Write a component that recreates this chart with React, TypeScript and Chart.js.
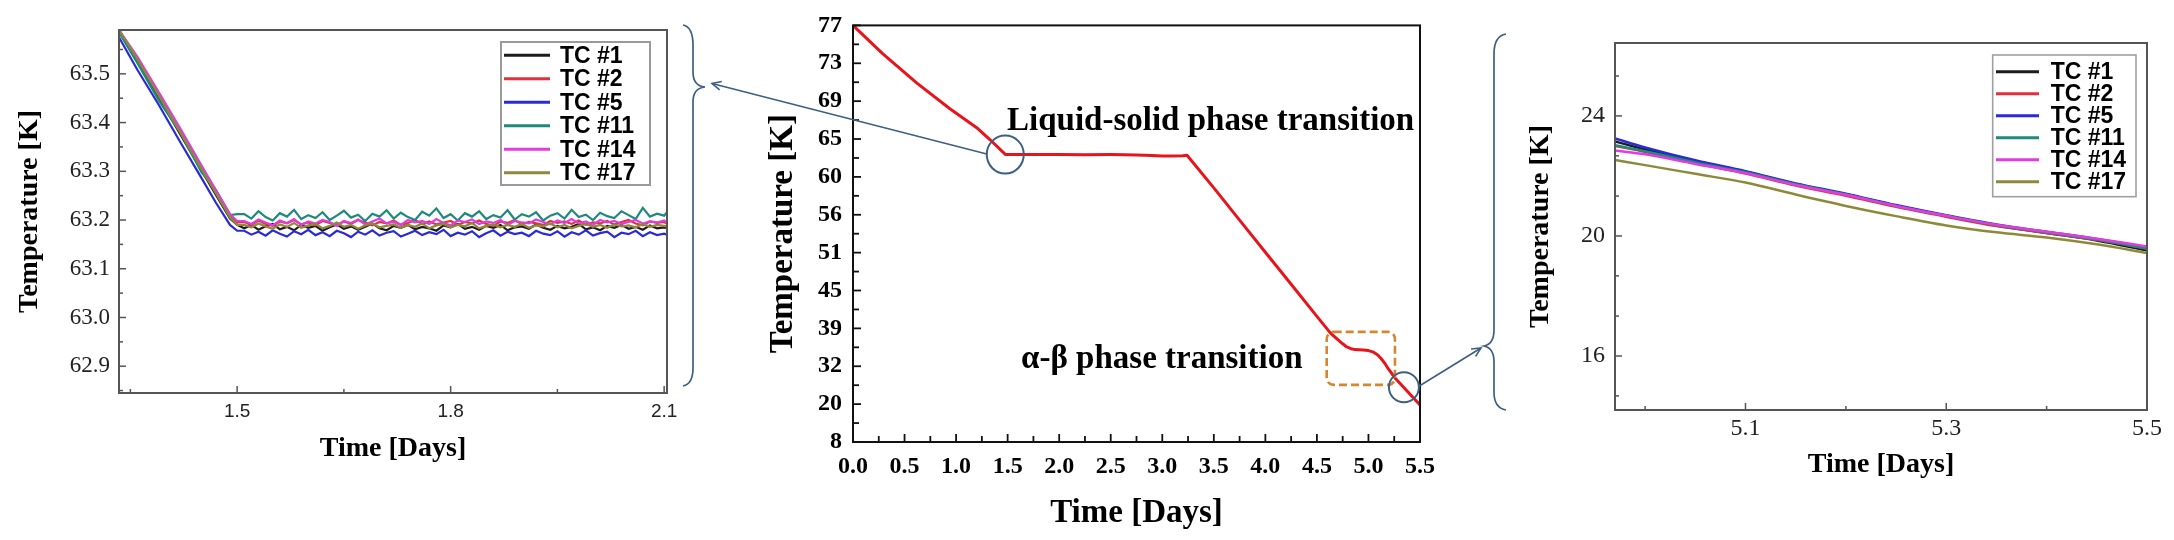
import React, { useEffect, useRef } from 'react';
import { Chart, registerables } from 'chart.js';

Chart.register(...registerables);

const PAGE_W = 2174;
const PAGE_H = 540;

// ---------- shared series meta ----------
const SERIES_LABELS = ['TC #1', 'TC #2', 'TC #5', 'TC #11', 'TC #14', 'TC #17'];
const SERIES_COLORS = ['#1c1c1c', '#e0323c', '#2a2ad8', '#1f8a7c', '#e03ce0', '#8c8a3a'];

// ---------- left panel (zoom on liquid-solid transition) ----------
const LEFT_TIME = [
  1.334, 1.36, 1.39, 1.42, 1.45, 1.47, 1.49, 1.5,
  1.51, 1.52, 1.53, 1.54, 1.55, 1.56, 1.57, 1.58, 1.59, 1.6,
  1.61, 1.62, 1.63, 1.64, 1.65, 1.66, 1.67, 1.68, 1.69, 1.7,
  1.71, 1.72, 1.73, 1.74, 1.75, 1.76, 1.77, 1.78, 1.79, 1.8,
  1.81, 1.82, 1.83, 1.84, 1.85, 1.86, 1.87, 1.88, 1.89, 1.9,
  1.91, 1.92, 1.93, 1.94, 1.95, 1.96, 1.97, 1.98, 1.99, 2.0,
  2.01, 2.02, 2.03, 2.04, 2.05, 2.06, 2.07, 2.08, 2.09, 2.1,
  2.104,
];
const LEFT_TC1 = [
  63.59, 63.525, 63.452, 63.376, 63.302, 63.252, 63.203, 63.19,
  63.183, 63.19, 63.18, 63.187, 63.192, 63.181, 63.186, 63.179, 63.19, 63.184,
  63.188, 63.178, 63.185, 63.191, 63.182, 63.187, 63.18, 63.186, 63.193, 63.183,
  63.179, 63.188, 63.184, 63.19, 63.181, 63.186, 63.183, 63.178, 63.189, 63.185,
  63.192, 63.182, 63.186, 63.18, 63.188, 63.184, 63.19, 63.179, 63.185, 63.187,
  63.182, 63.191, 63.184, 63.18, 63.188, 63.183, 63.186, 63.192, 63.181, 63.185,
  63.179, 63.188, 63.184, 63.19, 63.182, 63.186, 63.18, 63.189, 63.183, 63.185,
  63.184,
];
const LEFT_TC2 = [
  63.59, 63.53, 63.458, 63.382, 63.308, 63.258, 63.208, 63.195,
  63.196, 63.19, 63.199, 63.192, 63.188, 63.197, 63.193, 63.2, 63.191, 63.195,
  63.189, 63.198, 63.194, 63.19, 63.197, 63.192, 63.2, 63.195, 63.189, 63.196,
  63.193, 63.199, 63.19, 63.194, 63.2, 63.192, 63.197, 63.191, 63.195, 63.198,
  63.19, 63.196, 63.193, 63.199, 63.192, 63.188, 63.197, 63.194, 63.2, 63.191,
  63.196, 63.193, 63.19, 63.198, 63.194, 63.197, 63.192, 63.199, 63.19, 63.195,
  63.193, 63.198, 63.191, 63.196, 63.2, 63.193, 63.189, 63.197, 63.194, 63.196,
  63.192,
];
const LEFT_TC5 = [
  63.575, 63.508, 63.436, 63.36, 63.286, 63.236, 63.19, 63.178,
  63.178, 63.17, 63.176, 63.168, 63.179, 63.172, 63.166, 63.177, 63.171, 63.18,
  63.169, 63.175, 63.167, 63.178, 63.173, 63.165, 63.176, 63.17, 63.179, 63.168,
  63.174, 63.177, 63.166, 63.172, 63.178, 63.169, 63.175, 63.171, 63.18, 63.167,
  63.174, 63.17, 63.177, 63.165, 63.173, 63.179, 63.168, 63.176, 63.171, 63.174,
  63.167, 63.178, 63.172, 63.169, 63.177, 63.166, 63.175, 63.17, 63.179, 63.168,
  63.173, 63.176, 63.165, 63.174, 63.171, 63.178, 63.167, 63.175, 63.169, 63.172,
  63.17,
];
const LEFT_TC11 = [
  63.585, 63.522, 63.445, 63.38, 63.298, 63.262, 63.21, 63.212,
  63.212, 63.203, 63.218, 63.206, 63.199, 63.214, 63.207, 63.221, 63.202, 63.21,
  63.204, 63.216, 63.2, 63.209, 63.219, 63.205, 63.211, 63.198, 63.213, 63.207,
  63.22, 63.203, 63.215, 63.206, 63.2, 63.217, 63.209, 63.224, 63.204, 63.212,
  63.199, 63.214, 63.207, 63.218, 63.202, 63.21, 63.205, 63.22, 63.201, 63.212,
  63.207, 63.216, 63.199, 63.209, 63.214, 63.203, 63.221, 63.206, 63.211, 63.2,
  63.215, 63.208, 63.204, 63.218, 63.21, 63.202, 63.225, 63.207, 63.213, 63.209,
  63.216,
];
const LEFT_TC14 = [
  63.59, 63.535, 63.462, 63.388, 63.312, 63.262, 63.212, 63.198,
  63.198, 63.192, 63.201, 63.195, 63.189, 63.199, 63.194, 63.202, 63.19, 63.197,
  63.193, 63.2, 63.196, 63.188, 63.198, 63.194, 63.201, 63.191, 63.197, 63.203,
  63.193, 63.196, 63.19, 63.2, 63.195, 63.198, 63.192, 63.202, 63.194, 63.189,
  63.199, 63.196, 63.201, 63.192, 63.197, 63.194, 63.2, 63.19, 63.198, 63.195,
  63.193, 63.201, 63.196, 63.191, 63.199, 63.194, 63.202, 63.193, 63.197, 63.19,
  63.2, 63.195, 63.198, 63.192, 63.196, 63.2, 63.193, 63.197, 63.195, 63.199,
  63.194,
];
const LEFT_TC17 = [
  63.59, 63.53, 63.455, 63.38, 63.305, 63.255, 63.205, 63.19,
  63.19, 63.185, 63.193, 63.187, 63.182, 63.191, 63.186, 63.194, 63.184, 63.189,
  63.192, 63.183, 63.188, 63.195, 63.186, 63.19, 63.182, 63.189, 63.193, 63.185,
  63.188, 63.191, 63.184, 63.19, 63.186, 63.193, 63.183, 63.189, 63.192, 63.185,
  63.19, 63.187, 63.194, 63.183, 63.188, 63.191, 63.185, 63.19, 63.186, 63.192,
  63.184, 63.189, 63.187, 63.193, 63.185, 63.19, 63.183, 63.188, 63.192, 63.186,
  63.19, 63.184, 63.191, 63.187, 63.189, 63.185, 63.192, 63.186, 63.19, 63.188,
  63.187,
];
const LEFT_X_TICKS = [1.5, 1.8, 2.1];
const LEFT_X_MINOR = [1.35, 1.65, 1.95];
const LEFT_Y_TICKS = [62.9, 63.0, 63.1, 63.2, 63.3, 63.4, 63.5];
const LEFT_Y_MINOR = [62.85, 62.95, 63.05, 63.15, 63.25, 63.35, 63.45, 63.55];

// ---------- middle panel (whole cool-down) ----------
const MID_TIME = [
  0, 0.29, 0.62, 0.94, 1.2, 1.33, 1.48, 1.75, 2.0, 2.25, 2.5, 2.75, 2.9, 3.0,
  3.1, 3.2, 3.24, 3.5, 3.75, 4.0, 4.25, 4.5, 4.63, 4.7, 4.75, 4.79, 4.83, 4.87,
  4.95, 5.0, 5.05, 5.09, 5.12, 5.16, 5.19, 5.26, 5.37, 5.5,
];
const MID_TEMP = [
  77, 74.0, 70.9, 68.2, 66.2, 64.9, 62.95, 62.95, 62.95, 62.93, 62.95, 62.9,
  62.82, 62.75, 62.75, 62.8, 62.85, 58.84, 55.3, 51.05, 46.0, 40.9, 38.16,
  36.97, 36.15, 35.57, 35.25, 35.08, 35.0, 34.9, 34.6, 34.1, 33.47, 32.5,
  31.3, 28.2, 24.3, 19.76,
];
const MID_Y_TICKS = [77, 73, 69, 65, 60, 56, 51, 45, 39, 32, 20, 8];
const MID_X_TICKS = [0, 0.5, 1, 1.5, 2, 2.5, 3, 3.5, 4, 4.5, 5, 5.5];
const MID_X_MINOR = [0.25, 0.75, 1.25, 1.75, 2.25, 2.75, 3.25, 3.75, 4.25, 4.75, 5.25];

// annotations of the middle panel (data coordinates: days, kelvin)
const LABEL_LIQUID = { text: 'Liquid-solid phase transition', t: 1.494, k: 65.98 };
const LABEL_AB = { text: 'α-β phase transition', t: 1.63, k: 31.4 };
const CIRCLE_LIQUID = { t: 1.477, k: 62.95 };
const CIRCLE_AB = { t: 5.344, k: 25.35 };
const BOX_AB = { t0: 4.595, t1: 5.257, k0: 38.35, k1: 26.1 };

// ---------- right panel (zoom at the end) ----------
const RIGHT_TIME = [4.97, 5.0, 5.05, 5.1, 5.15, 5.2, 5.25, 5.3, 5.35, 5.4, 5.45, 5.5];
const RIGHT_TC1 = [23.15, 22.88, 22.48, 22.14, 21.73, 21.39, 21.01, 20.67, 20.35, 20.1, 19.85, 19.52];
const RIGHT_TC2 = [23.0, 22.8, 22.42, 22.08, 21.68, 21.34, 20.97, 20.64, 20.33, 20.1, 19.87, 19.58];
const RIGHT_TC5 = [23.25, 22.95, 22.52, 22.16, 21.75, 21.41, 21.03, 20.69, 20.38, 20.14, 19.9, 19.62];
const RIGHT_TC11 = [23.02, 22.82, 22.45, 22.12, 21.72, 21.38, 21.0, 20.67, 20.36, 20.12, 19.88, 19.58];
const RIGHT_TC14 = [22.85, 22.72, 22.4, 22.09, 21.7, 21.37, 21.0, 20.67, 20.37, 20.14, 19.91, 19.65];
const RIGHT_TC17 = [22.53, 22.36, 22.07, 21.78, 21.38, 21.0, 20.66, 20.35, 20.12, 19.95, 19.72, 19.43];
const RIGHT_X_TICKS = [5.1, 5.3, 5.5];
const RIGHT_X_MINOR = [5.0, 5.2, 5.4];
const RIGHT_Y_TICKS = [16, 20, 24];
const RIGHT_Y_MINOR = [14.67, 17.33, 18.67, 21.33, 22.67, 25.33];

// ---------- helpers ----------
const SERIF = 'Liberation Serif';
const SANS = 'Liberation Sans';

// position on the (evenly spaced, non-linear) middle temperature axis
function kToPos(k: number): number {
  const t = MID_Y_TICKS;
  if (k >= t[0]) return (t[0] - k) / (t[0] - t[1]);
  for (let i = 0; i < t.length - 1; i++) {
    if (k <= t[i] && k >= t[i + 1]) return i + (t[i] - k) / (t[i] - t[i + 1]);
  }
  const n = t.length - 1;
  return n + (t[n] - k) / (t[n - 1] - t[n]);
}

type Area = { l: number; t: number; r: number; b: number };
function padFor(a: Area, yW: number, xH: number) {
  return { left: a.l - yW, top: a.t, right: PAGE_W - a.r, bottom: PAGE_H - a.b - xH };
}

function axis(o: {
  min: number; max: number; major: number[]; minor: number[];
  fmt: (v: number) => string; font: any; padding: number; color: string;
  title: string; titleFont: any; size: number; reverse?: boolean;
}) {
  const isMajor = (v: number) => o.major.some((m) => Math.abs(m - v) < 1e-9);
  return {
    type: 'linear',
    min: o.min,
    max: o.max,
    reverse: !!o.reverse,
    afterBuildTicks: (s: any) => {
      s.ticks = [...o.major, ...o.minor].sort((a, b) => a - b).map((v) => ({ value: v }));
    },
    afterFit: (s: any) => {
      if (s.isHorizontal()) s.height = o.size;
      else s.width = o.size;
    },
    grid: { display: false, drawTicks: false },
    border: { display: false },
    ticks: {
      autoSkip: false,
      maxRotation: 0,
      minRotation: 0,
      padding: o.padding,
      font: o.font,
      color: o.color,
      callback: (v: any) => (isMajor(Number(v)) ? o.fmt(Number(v)) : ''),
    },
    title: { display: true, text: o.title, font: o.titleFont, color: '#000', padding: 0 },
  };
}

// frame + inward tick marks
const framePlugin = {
  id: 'panelFrame',
  afterDatasetsDraw(chart: any, _a: any, o: any) {
    const { ctx, chartArea: a } = chart;
    ctx.save();
    ctx.strokeStyle = o.color;
    ctx.lineWidth = o.width;
    ctx.strokeRect(a.left, a.top, a.right - a.left, a.bottom - a.top);
    ctx.lineWidth = o.tickWidth;
    (['x', 'y'] as const).forEach((id) => {
      const s = chart.scales[id];
      s.ticks.forEach((t: any) => {
        const major = t.label !== '' && t.label != null;
        const len = major ? o.major : o.minor;
        const p = s.getPixelForValue(t.value);
        ctx.beginPath();
        if (id === 'x') {
          ctx.moveTo(p, a.bottom);
          ctx.lineTo(p, a.bottom - len);
        } else {
          ctx.moveTo(a.left, p);
          ctx.lineTo(a.left + len, p);
        }
        ctx.stroke();
      });
    });
    ctx.restore();
  },
};

// boxed legend drawn inside the plot area (top-right)
const boxLegendPlugin = {
  id: 'boxLegend',
  afterDraw(chart: any, _a: any, o: any) {
    const { ctx, chartArea: a } = chart;
    const R = a.right;
    const T = a.top;
    ctx.save();
    ctx.fillStyle = '#ffffff';
    ctx.fillRect(R + o.box[0], T + o.box[1], o.box[2] - o.box[0], o.box[3] - o.box[1]);
    ctx.strokeStyle = o.boxColor;
    ctx.lineWidth = o.boxWidth;
    ctx.strokeRect(R + o.box[0], T + o.box[1], o.box[2] - o.box[0], o.box[3] - o.box[1]);
    ctx.font = o.font;
    ctx.textBaseline = 'middle';
    ctx.textAlign = 'left';
    chart.data.datasets.forEach((ds: any, i: number) => {
      const y = T + o.row0 + i * o.rowDy;
      ctx.strokeStyle = ds.borderColor;
      ctx.lineWidth = o.lineWidth;
      ctx.beginPath();
      ctx.moveTo(R + o.line0, y);
      ctx.lineTo(R + o.line1, y);
      ctx.stroke();
      ctx.fillStyle = '#000';
      ctx.fillText(ds.label, R + o.textX, y + 1);
    });
    ctx.restore();
  },
};

function arrow(ctx: CanvasRenderingContext2D, x0: number, y0: number, x1: number, y1: number) {
  ctx.beginPath();
  ctx.moveTo(x0, y0);
  ctx.lineTo(x1, y1);
  ctx.stroke();
  const ang = Math.atan2(y1 - y0, x1 - x0);
  const len = 10;
  const spread = 0.45;
  ctx.beginPath();
  ctx.moveTo(x1 - len * Math.cos(ang - spread), y1 - len * Math.sin(ang - spread));
  ctx.lineTo(x1, y1);
  ctx.lineTo(x1 - len * Math.cos(ang + spread), y1 - len * Math.sin(ang + spread));
  ctx.stroke();
}

// annotations of the middle panel, plus the braces/arrows pointing to the side panels
const decorPlugin = {
  id: 'decor',
  afterDraw(chart: any) {
    const { ctx } = chart;
    const xs = chart.scales.x;
    const ys = chart.scales.y;
    const X = (t: number) => xs.getPixelForValue(t);
    const Y = (k: number) => ys.getPixelForValue(kToPos(k));
    ctx.save();

    // texts
    ctx.fillStyle = '#000';
    ctx.font = `bold 33px "${SERIF}"`;
    ctx.textAlign = 'left';
    ctx.textBaseline = 'alphabetic';
    ctx.fillText(LABEL_LIQUID.text, X(LABEL_LIQUID.t), Y(LABEL_LIQUID.k));
    ctx.fillText(LABEL_AB.text, X(LABEL_AB.t), Y(LABEL_AB.k));

    // orange dashed box
    ctx.strokeStyle = '#d6862e';
    ctx.lineWidth = 2.6;
    ctx.setLineDash([8, 4]);
    const bx0 = X(BOX_AB.t0), bx1 = X(BOX_AB.t1), by0 = Y(BOX_AB.k0), by1 = Y(BOX_AB.k1);
    ctx.beginPath();
    (ctx as any).roundRect(bx0, by0, bx1 - bx0, by1 - by0, 7);
    ctx.stroke();
    ctx.setLineDash([]);

    // circles
    const blue = '#3e5f80';
    ctx.strokeStyle = blue;
    ctx.lineWidth = 2;
    const c1x = X(CIRCLE_LIQUID.t), c1y = Y(CIRCLE_LIQUID.k);
    const c2x = X(CIRCLE_AB.t), c2y = Y(CIRCLE_AB.k);
    ctx.beginPath();
    ctx.ellipse(c1x, c1y, 18.5, 19, 0, 0, Math.PI * 2);
    ctx.stroke();
    ctx.beginPath();
    ctx.ellipse(c2x, c2y, 15, 15, 0, 0, Math.PI * 2);
    ctx.stroke();

    // arrows to the braces
    ctx.lineWidth = 1.6;
    arrow(ctx, c1x - 18.5, c1y - 0.5, 712, 83.5);
    arrow(ctx, c2x + 15, c2y - 1, 1481, 348);

    // left brace
    ctx.lineWidth = 1.7;
    ctx.beginPath();
    ctx.moveTo(683, 25);
    ctx.quadraticCurveTo(693, 27, 693, 45);
    ctx.lineTo(693, 72);
    ctx.quadraticCurveTo(693, 86, 705, 87);
    ctx.quadraticCurveTo(693, 88, 693, 102);
    ctx.lineTo(693, 368);
    ctx.quadraticCurveTo(693, 384, 683, 386);
    ctx.stroke();

    // right brace
    ctx.beginPath();
    ctx.moveTo(1506, 34);
    ctx.quadraticCurveTo(1494, 36, 1494, 54);
    ctx.lineTo(1494, 330);
    ctx.quadraticCurveTo(1494, 344, 1484, 346);
    ctx.quadraticCurveTo(1494, 348, 1494, 362);
    ctx.lineTo(1494, 392);
    ctx.quadraticCurveTo(1494, 408, 1506, 410);
    ctx.stroke();

    ctx.restore();
  },
};

const BASE = {
  animation: false,
  responsive: false,
  devicePixelRatio: 1,
  events: [],
};

function seriesSets(time: number[], series: number[][], width: number, smooth: boolean) {
  return series.map((vals, i) => ({
    label: SERIES_LABELS[i],
    data: time.map((x, j) => ({ x, y: vals[j] })).filter((p) => p.y !== undefined),
    borderColor: SERIES_COLORS[i],
    backgroundColor: SERIES_COLORS[i],
    borderWidth: width,
    pointRadius: 0,
    tension: 0,
    cubicInterpolationMode: smooth ? 'monotone' : 'default',
    order: series.length - 1 - i,
  }));
}

function leftConfig(): any {
  const area = { l: 119, t: 30, r: 667, b: 393 };
  return {
    type: 'line',
    data: {
      datasets: seriesSets(LEFT_TIME, [LEFT_TC1, LEFT_TC2, LEFT_TC5, LEFT_TC11, LEFT_TC14, LEFT_TC17], 2.2, false),
    },
    options: {
      ...BASE,
      layout: { padding: padFor(area, 106, 73) },
      scales: {
        x: axis({
          min: 1.334, max: 2.104, major: LEFT_X_TICKS, minor: LEFT_X_MINOR,
          fmt: (v) => v.toFixed(1), font: { family: SANS, size: 19 }, padding: 7, color: '#222',
          title: 'Time [Days]', titleFont: { family: SERIF, size: 28, weight: 'bold' }, size: 73,
        }),
        y: axis({
          min: 62.845, max: 63.59, major: LEFT_Y_TICKS, minor: LEFT_Y_MINOR,
          fmt: (v) => v.toFixed(1), font: { family: SERIF, size: 23 }, padding: 9, color: '#222',
          title: 'Temperature [K]', titleFont: { family: SERIF, size: 28, weight: 'bold' }, size: 106,
        }),
      },
      plugins: {
        legend: { display: false },
        tooltip: { enabled: false },
        panelFrame: { color: '#555', width: 2, tickWidth: 1.5, major: 7, minor: 4 },
        boxLegend: {
          box: [-166, 12, -17, 155], boxColor: '#9a9a9a', boxWidth: 2,
          row0: 25.2, rowDy: 23.5, line0: -163, line1: -117, textX: -107,
          font: `bold 23px "${SANS}"`, lineWidth: 3,
        },
      },
    },
    plugins: [framePlugin, boxLegendPlugin],
  };
}

function midConfig(): any {
  const area = { l: 853, t: 23.3, r: 1420, b: 442 };
  const yMajor = MID_Y_TICKS.map((_, i) => i);
  const yMinor = MID_Y_TICKS.slice(1).map((_, i) => i + 0.5);
  return {
    type: 'line',
    data: {
      datasets: [
        {
          label: 'Temperature',
          data: MID_TIME.map((x, i) => ({ x, y: kToPos(MID_TEMP[i]) })),
          borderColor: '#e8141c',
          borderWidth: 3,
          pointRadius: 0,
          tension: 0,
          borderJoinStyle: 'round',
        },
      ],
    },
    options: {
      ...BASE,
      layout: { padding: padFor(area, 89, 91) },
      scales: {
        x: axis({
          min: 0, max: 5.5, major: MID_X_TICKS, minor: MID_X_MINOR,
          fmt: (v) => v.toFixed(1), font: { family: SERIF, size: 24, weight: 'bold' }, padding: 10, color: '#000',
          title: 'Time [Days]', titleFont: { family: SERIF, size: 33, weight: 'bold' }, size: 91,
        }),
        y: axis({
          min: 0, max: MID_Y_TICKS.length - 1, major: yMajor, minor: yMinor, reverse: true,
          fmt: (v) => String(MID_Y_TICKS[Math.round(v)]), font: { family: SERIF, size: 24, weight: 'bold' },
          padding: 11, color: '#000',
          title: 'Temperature [K]', titleFont: { family: SERIF, size: 33, weight: 'bold' }, size: 89,
        }),
      },
      plugins: {
        legend: { display: false },
        tooltip: { enabled: false },
        panelFrame: { color: '#111', width: 2, tickWidth: 1.8, major: 8, minor: 6 },
      },
    },
    plugins: [framePlugin, decorPlugin],
  };
}

function rightConfig(): any {
  const area = { l: 1615, t: 43, r: 2147, b: 410 };
  return {
    type: 'line',
    data: {
      datasets: seriesSets(RIGHT_TIME, [RIGHT_TC1, RIGHT_TC2, RIGHT_TC5, RIGHT_TC11, RIGHT_TC14, RIGHT_TC17], 2.5, true),
    },
    options: {
      ...BASE,
      layout: { padding: padFor(area, 91, 72) },
      scales: {
        x: axis({
          min: 4.97, max: 5.5, major: RIGHT_X_TICKS, minor: RIGHT_X_MINOR,
          fmt: (v) => v.toFixed(1), font: { family: SERIF, size: 24 }, padding: 4, color: '#222',
          title: 'Time [Days]', titleFont: { family: SERIF, size: 28, weight: 'bold' }, size: 72,
        }),
        y: axis({
          min: 14.2, max: 26.43, major: RIGHT_Y_TICKS, minor: RIGHT_Y_MINOR,
          fmt: (v) => String(Math.round(v)), font: { family: SERIF, size: 24 }, padding: 10, color: '#222',
          title: 'Temperature [K]', titleFont: { family: SERIF, size: 28, weight: 'bold' }, size: 91,
        }),
      },
      plugins: {
        legend: { display: false },
        tooltip: { enabled: false },
        panelFrame: { color: '#555', width: 2, tickWidth: 1.5, major: 7, minor: 4 },
        boxLegend: {
          box: [-154.3, 12, -11, 153.7], boxColor: '#a0a0a0', boxWidth: 1.6,
          row0: 28.7, rowDy: 22, line0: -151, line1: -108, textX: -96.3,
          font: `bold 23px "${SANS}"`, lineWidth: 3,
        },
      },
    },
    plugins: [framePlugin, boxLegendPlugin],
  };
}

function ChartCanvas({ make }: { make: () => any }) {
  const ref = useRef<HTMLCanvasElement>(null);
  useEffect(() => {
    const chart = new Chart(ref.current as HTMLCanvasElement, make());
    return () => chart.destroy();
  }, []);
  return (
    <canvas
      ref={ref}
      width={PAGE_W}
      height={PAGE_H}
      style={{ position: 'absolute', left: 0, top: 0, width: PAGE_W, height: PAGE_H }}
    />
  );
}

export default function App() {
  return (
    <div
      style={{
        position: 'absolute',
        left: 0,
        top: 0,
        width: PAGE_W,
        height: PAGE_H,
        background: '#fff',
        overflow: 'hidden',
      }}
    >
      <ChartCanvas make={midConfig} />
      <ChartCanvas make={leftConfig} />
      <ChartCanvas make={rightConfig} />
    </div>
  );
}
